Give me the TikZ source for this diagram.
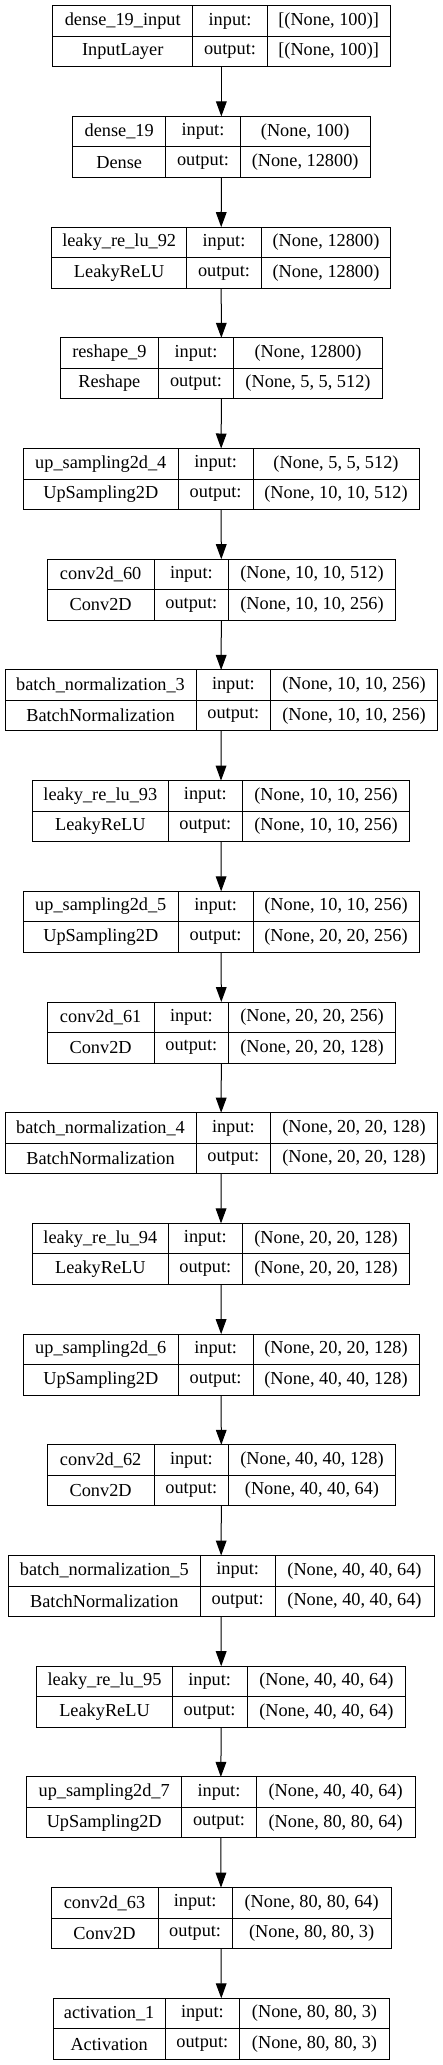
\documentclass[tikz,border=0pt]{standalone}
\usepackage{fontspec}
\setmainfont{Liberation Serif}
\usetikzlibrary{arrows.meta}

% one keras layer: index, left, col1, col2, right, name, class, input, output
\newcommand{\layerbox}[9]{%
	\pgfmathsetmacro{\ytop}{5.7+(#1-1)*110.7}
	\node[frame, minimum width={#5-#2}] (L#1) at ({(#2+#5)/2},{\ytop+30.5}) {};
	\node[cell, minimum width={#3-#2}] (L#1name) at ({(#2+#3)/2},{\ytop+15.25}) {#6};
	\node[cell, minimum width={#3-#2}] (L#1cls) at ({(#2+#3)/2},{\ytop+45.75}) {#7};
	\node[cell, minimum width={#4-#3}] (L#1inl) at ({(#3+#4)/2},{\ytop+15.25}) {input:};
	\node[cell, minimum width={#4-#3}] (L#1outl) at ({(#3+#4)/2},{\ytop+45.75}) {output:};
	\node[cell, minimum width={#5-#4}] (L#1in) at ({(#4+#5)/2},{\ytop+15.25}) {#8};
	\node[cell, minimum width={#5-#4}] (L#1out) at ({(#4+#5)/2},{\ytop+45.75}) {#9};
}

\begin{document}
\begin{tikzpicture}[x=1pt, y=-1pt,
	cell/.style={rectangle, draw, line width=1pt, inner sep=0pt, outer sep=0pt,
		minimum height=30.5pt, font=\fontsize{18.3}{20}\selectfont},
	frame/.style={rectangle, inner sep=0pt, outer sep=0pt, minimum height=61pt},
	flow/.style={line width=1pt, -{Triangle[width=10.7pt, length=15pt]}}]
	\useasboundingbox (0,0) rectangle (443,2065);
	\layerbox{1}{52.7}{192.7}{267.3}{390}{dense\_19\_input}{InputLayer}{[(None, 100)]}{[(None, 100)]}
	\layerbox{2}{72.7}{165.7}{240.3}{370}{dense\_19}{Dense}{(None, 100)}{(None, 12800)}
	\layerbox{3}{51.7}{186.7}{261.3}{390.7}{leaky\_re\_lu\_92}{LeakyReLU}{(None, 12800)}{(None, 12800)}
	\layerbox{4}{60}{158.7}{233.3}{382.7}{reshape\_9}{Reshape}{(None, 12800)}{(None, 5, 5, 512)}
	\layerbox{5}{23.3}{178.3}{253}{419}{up\_sampling2d\_4}{UpSampling2D}{(None, 5, 5, 512)}{(None, 10, 10, 512)}
	\layerbox{6}{47.3}{154}{228.7}{395.3}{conv2d\_60}{Conv2D}{(None, 10, 10, 512)}{(None, 10, 10, 256)}
	\layerbox{7}{5}{196}{270.7}{437.3}{batch\_normalization\_3}{BatchNormalization}{(None, 10, 10, 256)}{(None, 10, 10, 256)}
	\layerbox{8}{32.7}{168}{242.7}{409.3}{leaky\_re\_lu\_93}{LeakyReLU}{(None, 10, 10, 256)}{(None, 10, 10, 256)}
	\layerbox{9}{23.3}{178.3}{253}{419}{up\_sampling2d\_5}{UpSampling2D}{(None, 10, 10, 256)}{(None, 20, 20, 256)}
	\layerbox{10}{47.3}{154}{228.7}{395.3}{conv2d\_61}{Conv2D}{(None, 20, 20, 256)}{(None, 20, 20, 128)}
	\layerbox{11}{5}{196}{270.7}{437.3}{batch\_normalization\_4}{BatchNormalization}{(None, 20, 20, 128)}{(None, 20, 20, 128)}
	\layerbox{12}{32.7}{168}{242.7}{409.3}{leaky\_re\_lu\_94}{LeakyReLU}{(None, 20, 20, 128)}{(None, 20, 20, 128)}
	\layerbox{13}{23.3}{178.3}{253}{419}{up\_sampling2d\_6}{UpSampling2D}{(None, 20, 20, 128)}{(None, 40, 40, 128)}
	\layerbox{14}{47.3}{154}{228.7}{395.3}{conv2d\_62}{Conv2D}{(None, 40, 40, 128)}{(None, 40, 40, 64)}
	\layerbox{15}{8.3}{200.3}{275}{434}{batch\_normalization\_5}{BatchNormalization}{(None, 40, 40, 64)}{(None, 40, 40, 64)}
	\layerbox{16}{36.7}{172.3}{247}{405.7}{leaky\_re\_lu\_95}{LeakyReLU}{(None, 40, 40, 64)}{(None, 40, 40, 64)}
	\layerbox{17}{26.7}{181.7}{256.3}{415}{up\_sampling2d\_7}{UpSampling2D}{(None, 40, 40, 64)}{(None, 80, 80, 64)}
	\layerbox{18}{51}{158}{232.3}{391}{conv2d\_63}{Conv2D}{(None, 80, 80, 64)}{(None, 80, 80, 3)}
	\layerbox{19}{53.3}{165}{239.7}{389.3}{activation\_1}{Activation}{(None, 80, 80, 3)}{(None, 80, 80, 3)}
	% arrows between layers
	\foreach \i [evaluate=\i as \j using int(\i+1)] in {1,...,18}
		\draw[flow] (L\i.south) -- (L\j.north);
\end{tikzpicture}
\end{document}
